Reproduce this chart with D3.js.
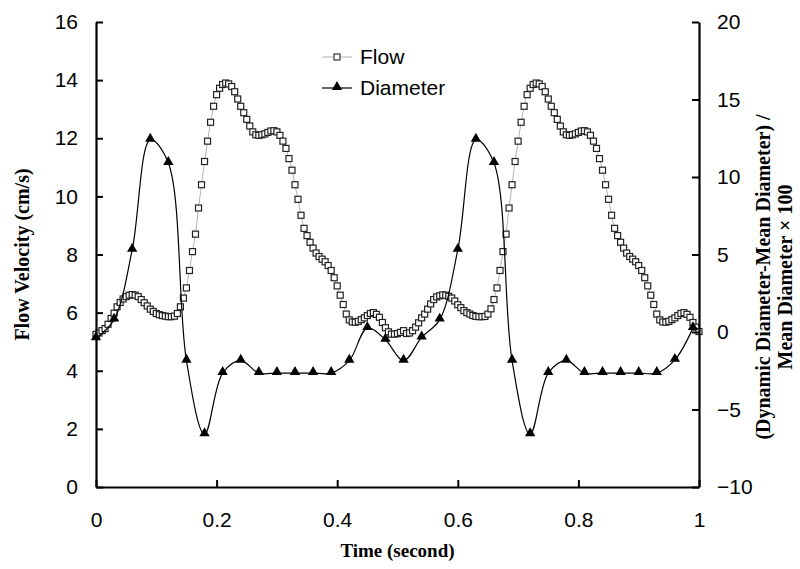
<!DOCTYPE html>
<html>
<head>
<meta charset="utf-8">
<script src="https://cdn.jsdelivr.net/npm/d3@7"></script>
<style>
  body { margin: 0; background: #fff; }
  svg { display: block; }
  .tick text { font-family: "Liberation Sans", Arial, sans-serif; font-size: 21px; fill: #000; }
  .axis-title { font-family: "Liberation Serif", "Times New Roman", serif; font-weight: bold; font-size: 20px; fill: #000; }
  .legend-text { font-family: "Liberation Sans", Arial, sans-serif; font-size: 21px; fill: #000; }
</style>
</head>
<body>
<svg id="chart" width="800" height="569"></svg>
<script>
// flow velocity (cm/s), sampled every 0.005 s from 0 to 1
const flowTimes = d3.range(0, 201).map(i => +(i * 0.005).toFixed(3));
const flowValues = [
  5.25, 5.3, 5.38, 5.45, 5.6, 5.8, 5.98, 6.2, 6.35, 6.47,
  6.55, 6.6, 6.62, 6.6, 6.55, 6.45, 6.34, 6.23, 6.12, 6.04,
  5.97, 5.93, 5.9, 5.88, 5.86, 5.86, 5.88, 5.97, 6.2, 6.5,
  6.85, 7.45, 8.1, 8.7, 9.6, 10.4, 11.2, 11.9, 12.55, 13.1,
  13.5, 13.72, 13.85, 13.9, 13.87, 13.78, 13.6, 13.35, 13.1, 12.88,
  12.65, 12.42, 12.22, 12.12, 12.1, 12.12, 12.15, 12.2, 12.25, 12.26,
  12.22, 12.1, 11.9, 11.65, 11.3, 10.9, 10.4, 9.9, 9.35, 8.9,
  8.65, 8.42, 8.22, 8.05, 7.93, 7.84, 7.75, 7.62, 7.45, 7.2,
  6.92, 6.6, 6.28, 5.95, 5.75, 5.68, 5.67, 5.7, 5.76, 5.82,
  5.9, 5.97, 6.0, 5.94, 5.84, 5.66, 5.48, 5.34, 5.26, 5.26,
  5.28, 5.32, 5.38, 5.28, 5.3, 5.38, 5.5, 5.65, 5.82, 5.95,
  6.12, 6.3, 6.45, 6.54, 6.58, 6.61, 6.6, 6.56, 6.5, 6.4,
  6.27, 6.17, 6.07, 6.0, 5.95, 5.9, 5.87, 5.86, 5.86, 5.87,
  5.95, 6.13, 6.45, 6.85, 7.45, 8.1, 8.7, 9.6, 10.4, 11.2,
  11.9, 12.55, 13.1, 13.5, 13.72, 13.85, 13.9, 13.87, 13.78, 13.6,
  13.35, 13.1, 12.88, 12.65, 12.42, 12.22, 12.12, 12.1, 12.12, 12.15,
  12.2, 12.25, 12.26, 12.22, 12.1, 11.9, 11.65, 11.3, 10.9, 10.4,
  9.9, 9.35, 8.9, 8.65, 8.42, 8.22, 8.05, 7.93, 7.84, 7.75,
  7.62, 7.45, 7.2, 6.92, 6.6, 6.28, 5.95, 5.75, 5.68, 5.67,
  5.7, 5.76, 5.82, 5.9, 5.97, 6.0, 5.94, 5.84, 5.66, 5.5,
  5.35
];

// diameter change (%), right axis, every 0.03 s
const diameterTimes = d3.range(0, 34).map(i => +(i * 0.03).toFixed(2));
const diameterValues = [
  -0.4, 0.8, 5.3, 12.4, 10.9, -1.85, -6.6, -2.65, -1.85, -2.65,
  -2.65, -2.65, -2.65, -2.65, -1.85, 0.25, -0.5, -1.85, -0.35, 0.8,
  5.3, 12.4, 10.9, -1.85, -6.6, -2.65, -1.85, -2.65, -2.65, -2.65,
  -2.65, -2.65, -1.8, 0.25
];

const xTicks = [0, 0.2, 0.4, 0.6, 0.8, 1];
const yLeftTicks = [0, 2, 4, 6, 8, 10, 12, 14, 16];
const yRightTicks = [-10, -5, 0, 5, 10, 15, 20];
const legendItems = ["Flow", "Diameter"];

const svg = d3.select("#chart");
const margin = {top: 22, right: 101, bottom: 82, left: 96};
const width = 800 - margin.left - margin.right;
const height = 569 - margin.top - margin.bottom;

const x = d3.scaleLinear().domain([0, 1]).range([margin.left, margin.left + width]);
const yL = d3.scaleLinear().domain([0, 16]).range([margin.top + height, margin.top]);
const yR = d3.scaleLinear().domain([-10, 20]).range([margin.top + height, margin.top]);

const flowData = flowTimes.map((t, i) => ({t: t, v: flowValues[i]}));
const diameterData = diameterTimes.map((t, i) => ({t: t, v: diameterValues[i]}));

// flow: thin gray line with hollow squares
const flowLine = d3.line().x(d => x(d.t)).y(d => yL(d.v));
svg.append("path").datum(flowData)
  .attr("d", flowLine)
  .attr("fill", "none")
  .attr("stroke", "#a0a0a0")
  .attr("stroke-width", 0.8);

const sq = 6;
svg.append("g").selectAll("rect").data(flowData).join("rect")
  .attr("x", d => x(d.t) - sq / 2)
  .attr("y", d => yL(d.v) - sq / 2)
  .attr("width", sq).attr("height", sq)
  .attr("fill", "#fff")
  .attr("stroke", "#222")
  .attr("stroke-width", 1.2);

// diameter: smooth black line with filled triangles
const diameterLine = d3.line().x(d => x(d.t)).y(d => yR(d.v)).curve(d3.curveCatmullRom.alpha(0.5));
svg.append("path").datum(diameterData)
  .attr("d", diameterLine)
  .attr("fill", "none")
  .attr("stroke", "#000")
  .attr("stroke-width", 1.2);

const tri = d3.symbol().type(d3.symbolTriangle).size(46);
svg.append("g").selectAll("path").data(diameterData).join("path")
  .attr("d", tri)
  .attr("transform", d => `translate(${x(d.t)},${yR(d.v) - 1})`)
  .attr("fill", "#000");

// axes
const gx = svg.append("g").attr("transform", `translate(0,${margin.top + height})`)
  .call(d3.axisBottom(x).tickValues(xTicks).tickFormat(d3.format("~g"))
    .tickSizeInner(-7).tickSizeOuter(0).tickPadding(25));
const gyl = svg.append("g").attr("transform", `translate(${margin.left},0)`)
  .call(d3.axisLeft(yL).tickValues(yLeftTicks).tickSizeInner(-7).tickSizeOuter(0).tickPadding(18));
const gyr = svg.append("g").attr("transform", `translate(${margin.left + width},0)`)
  .call(d3.axisRight(yR).tickValues(yRightTicks).tickSizeInner(-7).tickSizeOuter(0).tickPadding(18));

[gx, gyl, gyr].forEach(g => {
  g.attr("font-family", null).attr("font-size", null);
  g.select(".domain").attr("stroke", "#000").attr("stroke-width", 2.2);
  g.selectAll(".tick line").attr("stroke", "#000").attr("stroke-width", 2);
});

// axis titles
svg.append("text").attr("class", "axis-title")
  .attr("x", x(0.5)).attr("y", 557)
  .style("font-size", "19px")
  .attr("text-anchor", "middle")
  .text("Time (second)");

svg.append("text").attr("class", "axis-title")
  .attr("transform", `translate(29,${yL(8)}) rotate(-90)`)
  .attr("text-anchor", "middle")
  .text("Flow Velocity (cm/s)");

const rightTitle = svg.append("text").attr("class", "axis-title")
  .attr("transform", `translate(770,277) rotate(-90)`)
  .attr("text-anchor", "middle");
rightTitle.append("tspan").attr("x", 0).attr("dy", 0).text("(Dynamic Diameter-Mean Diameter) /");
rightTitle.append("tspan").attr("x", 0).attr("dy", "1.1em").text("Mean Diameter × 100");

// legend
const legend = svg.append("g").attr("transform", "translate(322,57)");
legendItems.forEach((name, i) => {
  const g = legend.append("g").attr("transform", `translate(0,${i * 31})`);
  g.append("line").attr("x1", 0).attr("x2", 30).attr("y1", 0).attr("y2", 0)
    .attr("stroke", i === 0 ? "#a0a0a0" : "#000")
    .attr("stroke-width", i === 0 ? 0.8 : 1.2);
  if (i === 0) {
    g.append("rect").attr("x", 15 - sq / 2).attr("y", -sq / 2).attr("width", sq).attr("height", sq)
      .attr("fill", "#fff").attr("stroke", "#222").attr("stroke-width", 1.1);
  } else {
    g.append("path").attr("d", tri).attr("transform", "translate(15,-1)").attr("fill", "#000");
  }
  g.append("text").attr("class", "legend-text").attr("x", 38).attr("y", 0).attr("dy", "0.35em").text(name);
});
</script>
</body>
</html>
